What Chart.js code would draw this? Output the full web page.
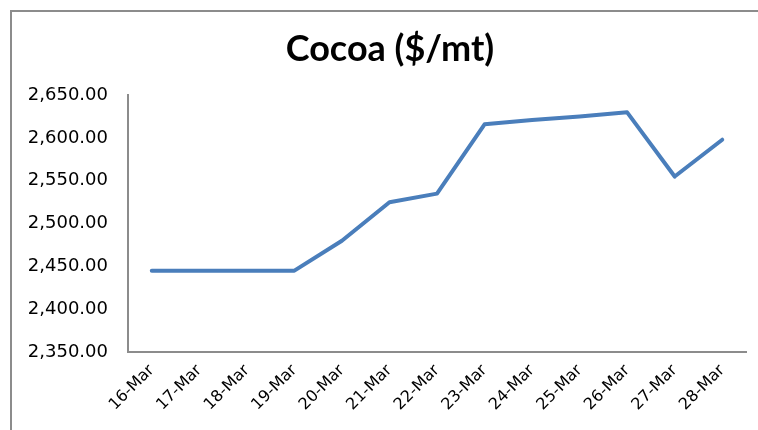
<!DOCTYPE html>
<html>
<head>
<meta charset="utf-8">
<script src="https://cdn.jsdelivr.net/npm/chart.js@4"></script>
<style>
html,body{margin:0;padding:0;background:#fff;}
#wrap{width:758px;height:430px;position:relative;}
</style>
</head>
<body>
<div id="wrap"><canvas id="c" width="758" height="430"></canvas></div>
<script>
const categories = ["16-Mar","17-Mar","18-Mar","19-Mar","20-Mar","21-Mar","22-Mar","23-Mar","24-Mar","25-Mar","26-Mar","27-Mar","28-Mar"];
const cocoaPrices = [2445,2445,2445,2445,2480,2525,2535,2616,2621,2625,2630,2555,2598];
const yMin = 2350, yMax = 2650, yStep = 50;
const chartTitle = "Cocoa ($/mt)";

const frame = {
  id: 'frame',
  afterLayout(chart) {
    const t = chart.titleBlock;
    if (t) { t.left = 34; t.right = chart.width - 12; }
  },
  beforeDraw(chart) {
    const ctx = chart.ctx;
    ctx.save();
    ctx.fillStyle = '#fff';
    ctx.fillRect(0,0,chart.width,chart.height);
    ctx.strokeStyle = '#8c8c8c';
    ctx.lineWidth = 2;
    ctx.strokeRect(11, 11, 900, 600);
    ctx.restore();
  }
};

new Chart(document.getElementById('c'), {
  type: 'line',
  data: {
    labels: categories,
    datasets: [{
      data: cocoaPrices,
      borderColor: '#4a7ebb',
      borderWidth: 4,
      pointRadius: 0,
      tension: 0,
      fill: false,
      borderJoinStyle: 'round',
      borderCapStyle: 'round'
    }]
  },
  plugins: [frame],
  options: {
    responsive: false,
    animation: false,
    layout: { padding: { left: 0, right: 12, top: 28, bottom: 0 } },
    plugins: {
      legend: { display: false },
      tooltip: { enabled: false },
      title: {
        display: true,
        text: chartTitle,
        color: '#000',
        font: { family: 'Lato', size: 36, weight: 'bold', lineHeight: 1.2 },
        padding: { top: 0, bottom: 24 }
      }
    },
    scales: {
      x: {
        offset: true,
        grid: { display: false, drawTicks: false },
        border: { display: true, color: '#8c8c8c', width: 2 },
        ticks: {
          color: '#000',
          font: { family: 'DejaVu Sans', size: 16 },
          maxRotation: 45, minRotation: 45,
          padding: 9,
          autoSkip: false
        },
        afterFit(scale) { scale.height = 78; }
      },
      y: {
        min: yMin, max: yMax,
        grid: { display: false, drawTicks: false },
        border: { display: true, color: '#8c8c8c', width: 2 },
        ticks: {
          stepSize: yStep,
          color: '#000',
          font: { family: 'DejaVu Sans', size: 18 },
          padding: 20,
          callback: v => Number(v).toLocaleString('en-US', {minimumFractionDigits: 2, maximumFractionDigits: 2})
        },
        afterFit(scale) { scale.width = 128; }
      }
    }
  }
});
</script>
</body>
</html>
